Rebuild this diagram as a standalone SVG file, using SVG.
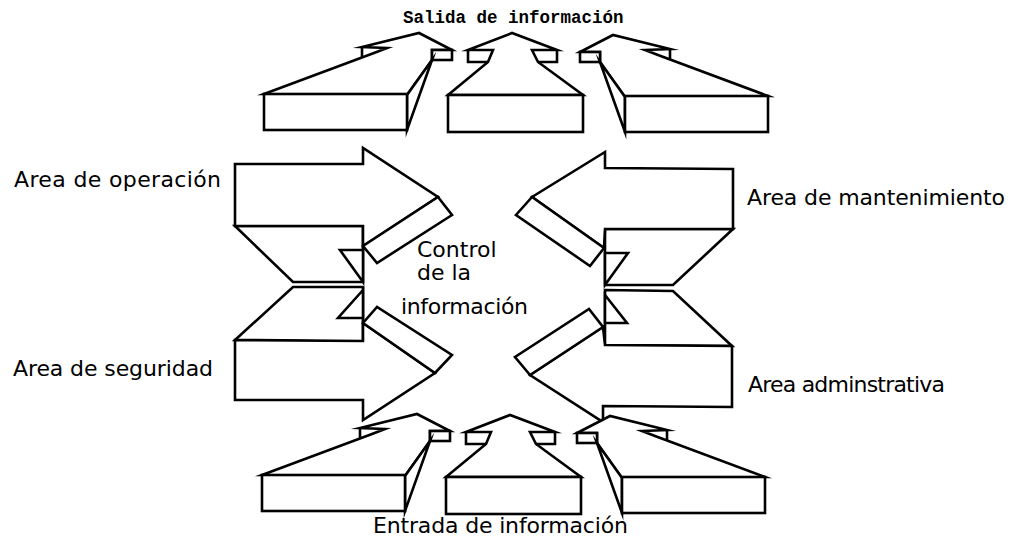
<svg xmlns="http://www.w3.org/2000/svg" width="1013" height="544" viewBox="0 0 1013 544">
<style>
.s{fill:#fff;stroke:#000;stroke-width:2.6;stroke-linejoin:miter;stroke-miterlimit:10}
.l{fill:none;stroke:#000;stroke-width:2.6}
.t{font-family:"DejaVu Sans","Liberation Sans",sans-serif;font-size:22px;fill:#000}
.h{font-family:"Liberation Mono","DejaVu Sans Mono",monospace;font-size:17.5px;font-weight:bold;fill:#000}
</style>
<defs>
<g id="tl">
<polygon class="s" points="264,94 374,53 387,48 362,47 419,33 452,50 432,50 432,60 407,95"/>
<polyline class="l" points="362,47 362,57"/>
<rect class="s" x="432" y="50" width="20" height="10"/>
<polygon class="s" points="432,60 407,130 407,95"/>
<rect class="s" x="264" y="94" width="143" height="36"/>
</g>
<g id="tm">
<polygon class="s" points="448,95 488,62 493,50 468,50 512,33 557,50 532,50 538,62 583,95"/>
<polyline class="l" points="468,50 468,62 488,62"/>
<polyline class="l" points="557,50 557,62 538,62"/>
<rect class="s" x="448" y="95" width="135" height="37"/>
</g>
<g id="tr">
<polygon class="s" points="768,96 658,55 645,50 670,49 613,35 580,52 600,52 600,62 625,97"/>
<polyline class="l" points="670,49 670,59"/>
<rect class="s" x="580" y="52" width="20" height="10"/>
<polygon class="s" points="600,62 625,132 625,97"/>
<rect class="s" x="625" y="96" width="143" height="36"/>
</g>
</defs>
<g id="side-arrows">
<g id="area-operacion-arrow">
<polygon class="s" points="235,226 363,226 363,282 293,282"/>
<polygon class="s" points="340,250 363,250 363,282"/>
<polygon class="s" points="235,164 363,164 363,148 438,197 363,246 363,226 235,226"/>
<polygon class="s" points="438,197 452,215 377,263 363,246"/>
</g>
<g id="area-seguridad-arrow">
<polygon class="s" points="293,287 363,287 363,342 235,340"/>
<polygon class="s" points="363,290 338,318 363,318"/>
<polygon class="s" points="235,340 363,341 363,323 435,373 363,420 363,400 235,400"/>
<polygon class="s" points="363,323 377,307 452,355 435,373"/>
</g>
<g id="area-mantenimiento-arrow">
<polygon class="s" points="605,229 733,229 673,285 605,285"/>
<polygon class="s" points="605,253 628,253 605,285"/>
<polygon class="s" points="733,169 605,168 605,152 532,197 604,248 605,229 733,229"/>
<polygon class="s" points="532,197 516,215 590,266 604,248"/>
</g>
<g id="area-administrativa-arrow">
<polygon class="s" points="605,290 673,291 732,346 605,345"/>
<polygon class="s" points="605,295 627,323 605,323"/>
<polygon class="s" points="605,345 732,346 732,407 603,406 603,422 530,375 603,327"/>
<polygon class="s" points="530,375 515,357 589,309 603,327"/>
</g>
</g>
<g id="output-arrows">
<use href="#tl"/>
<use href="#tm"/>
<use href="#tr"/>
</g>
<g id="input-arrows">
<use href="#tl" transform="translate(-2,381)"/>
<use href="#tm" transform="translate(-2,382)"/>
<use href="#tr" transform="translate(-3,381)"/>
</g>
<g id="labels">
<text class="h" x="403" y="23">Salida de información</text>
<text class="t" x="14" y="187" textLength="207">Area de operación</text>
<text class="t" x="747" y="205" textLength="258">Area de mantenimiento</text>
<text class="t" x="13" y="376" textLength="200">Area de seguridad</text>
<text class="t" x="748" y="392" textLength="197">Area adminstrativa</text>
<text class="t" x="417" y="257">Control</text>
<text class="t" x="417" y="280">de la</text>
<text class="t" x="401" y="314" textLength="127">información</text>
<text class="t" x="373" y="533" textLength="255">Entrada de información</text>
</g>
</svg>
